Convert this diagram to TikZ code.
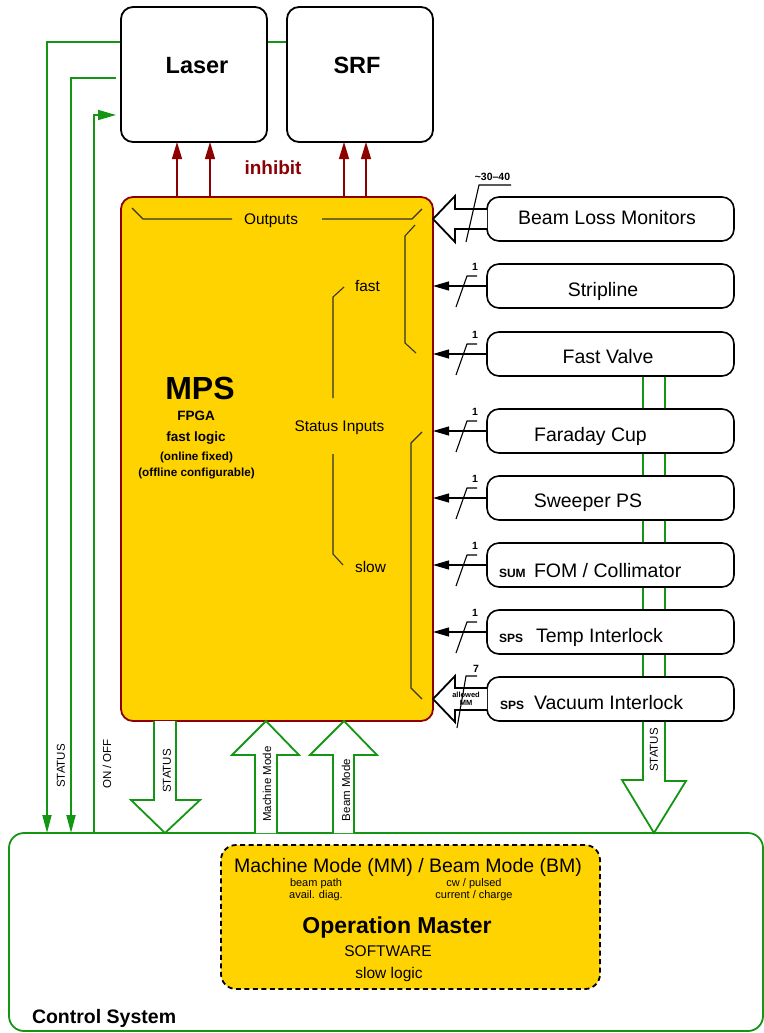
\documentclass[tikz,border=0pt]{standalone}
\usepackage{fontspec}
\setmainfont{Liberation Sans}
\usetikzlibrary{arrows.meta,calc}
\pgfdeclarelayer{bg}
\pgfsetlayers{bg,main}
\definecolor{gold}{RGB}{255,211,0}
\definecolor{grn}{RGB}{20,150,20}
\definecolor{dred}{RGB}{140,0,0}
\newcommand{\fsz}[1]{\fontsize{#1}{#1}\selectfont}
\begin{document}
\begin{tikzpicture}[x=1pt,y=-1pt,
  every node/.style={inner sep=0pt, outer sep=0pt},
  topbox/.style={draw, line width=1.8pt, rounded corners=12pt, fill=white, minimum width=146pt, minimum height=135pt},
  inbox/.style={draw, line width=1.6pt, rounded corners=12pt, fill=white, minimum width=247pt, minimum height=44pt},
  txt/.style={font=\fsz{19.5}, anchor=base},
  txtw/.style={font=\fsz{19.5}, anchor=base west},
  small/.style={font=\bfseries\fsz{12}, anchor=base west},
  onelbl/.style={font=\bfseries\fsz{10.5}, anchor=base},
  inarr/.style={line width=1.1pt, -{Triangle[length=16pt,width=9pt]}},
  slash/.style={line width=1.1pt},
  hollow/.style={line width=1.8pt, fill=white, line join=miter},
  inner/.style={line width=1.1pt, black!80},
  inh/.style={dred, line width=1.3pt, -{Triangle[length=17pt,width=10pt]}},
  gline/.style={grn, line width=1.8pt},
  garr/.style={grn, line width=1.8pt, -{Triangle[length=18pt,width=9pt]}},
  ghollow/.style={grn, line width=1.8pt, fill=white, line join=miter},
  rot/.style={font=\fsz{11.5}, rotate=90}
]
\useasboundingbox (0,0) rectangle (763,1033);

% control system
\node[draw=grn, line width=1.8pt, rounded corners=15pt, minimum width=754pt, minimum height=198pt] (cs) at (386,932) {};
\node[font=\bfseries\fsz{19.5}, anchor=base west] (cst) at (32,1023) {Control System};

% top boxes
\node[topbox] (laser) at (194,74.5) {};
\node[topbox] (srf) at (360,74.5) {};
\node[font=\bfseries\fsz{23.5}, anchor=base] (lasert) at (197,74) {Laser};
\node[font=\bfseries\fsz{23.5}, anchor=base] (srft) at (357,74) {SRF};

% MPS
\node[draw=dred, fill=gold, line width=1.8pt, rounded corners=12pt, minimum width=312pt, minimum height=524pt] (mps) at (277,459) {};
\node[font=\bfseries\fsz{32}, anchor=base] (mpst) at (200,399) {MPS};
\node[font=\bfseries\fsz{13.5}, anchor=base] (fpga) at (196,420) {FPGA};
\node[font=\bfseries\fsz{13.5}, anchor=base] (flog) at (196,441) {fast logic};
\node[font=\bfseries\fsz{11.7}, anchor=base] (onl) at (196.5,460) {(online fixed)};
\node[font=\bfseries\fsz{11.7}, anchor=base] (offl) at (196.5,476) {(offline configurable)};

\node[font=\fsz{15.4}, anchor=base] (outp) at (271,224.5) {Outputs};
\draw[inner] (132,208) -- (143,219) -- (232,219);
\draw[inner] (322,219) -- (412,219) -- (422,209);
\draw[inner] (415,225) -- (405,236) -- (405,343) -- (416,353);
\draw[inner] (344,287) -- (333,297) -- (333,398);
\draw[inner] (333,454) -- (333,554) -- (343,565);
\draw[inner] (422,432) -- (411,443) -- (411,688) -- (422,699);
\node[font=\fsz{15.4}, anchor=base] (fastt) at (367.5,291) {fast};
\node[font=\fsz{15.4}, anchor=base] (sinp) at (339.5,431) {Status Inputs};
\node[font=\fsz{15.4}, anchor=base] (slowt) at (370.5,572) {slow};

% inhibit
\foreach \b/\da/\db in {laser/-17/16, srf/-16/6}{
  \draw[inh] ($(\b.south)+(\da,55)$) -- ($(\b.south)+(\da,0)$);
  \draw[inh] ($(\b.south)+(\db,55)$) -- ($(\b.south)+(\db,0)$);
}
\node[font=\bfseries\fsz{19}, anchor=base, text=dred] (inhib) at (273,174) {inhibit};

% right boxes
\node[inbox] (blm) at (610.5,219) {};
\node[inbox] (strip) at (610.5,286) {};
\node[inbox] (fv) at (610.5,354) {};
\node[inbox] (fc) at (610.5,431) {};
\node[inbox] (sw) at (610.5,498) {};
\node[inbox] (fom) at (610.5,565) {};
\node[inbox] (temp) at (610.5,632) {};
\node[inbox] (vac) at (610.5,699) {};

\node[txt] (blmt) at (607,224) {Beam Loss Monitors};
\node[txt] (stript) at (603,296) {Stripline};
\node[txt] (fvt) at (608,363) {Fast Valve};
\node[txt] (fct) at (590.5,441) {Faraday Cup};
\node[txt] (swt) at (588,507) {Sweeper PS};
\node[small] (sum) at (499,577) {SUM};
\node[txtw] (fomt) at (534,577) {FOM / Collimator};
\node[small] (sps1) at (499,642) {SPS};
\node[txtw] (tempt) at (536,642) {Temp Interlock};
\node[small] (sps2) at (500,709) {SPS};
\node[txtw] (vact) at (534,709) {Vacuum Interlock};

% single inputs
\foreach \n in {strip,fv,fc,sw,fom,temp}{
  \draw[inarr] (\n.west) -- (\n.west -| mps.east);
  \draw[slash] ($(\n.west)+(-31,21)$) -- ($(\n.west)+(-20,-10)$) -- ($(\n.west)+(-10,-10)$);
  \node[onelbl] (one-\n) at ($(\n.west)+(-12,-16)$) {1};
}

% BLM bus arrow
\draw[hollow] ($(blm.west)+(0,-10)$) -- ++(-32,0) -- ++(0,-13) -- (blm.west -| mps.east) -- ++(22,23) -- ++(0,-13) -- ($(blm.west)+(0,10)$);
\draw[slash] ($(blm.west)+(-21,23)$) -- ($(blm.west)+(-8,-34)$) -- ($(blm.west)+(24,-34)$);
\node[onelbl] (blmn) at ($(blm.west)+(5.5,-39)$) {\textasciitilde30–40};

% Vacuum bus arrow
\draw[hollow] ($(vac.west)+(0,-11)$) -- ++(-32,0) -- ++(0,-12) -- (vac.west -| mps.east) -- ++(22,23) -- ++(0,-12) -- ($(vac.west)+(0,11)$);
\draw[slash] ($(vac.west)+(-30,29)$) -- ($(vac.west)+(-21,-23)$) -- ($(vac.west)+(-10,-23)$);
\node[onelbl] (vacn) at ($(vac.west)+(-11,-27)$) {7};
\node[font=\bfseries\fontsize{7.5}{8}\selectfont, align=center] (allowed) at ($(vac.west)+(-21,0)$) {allowed\\MM};

% background green connectors
\coordinate (st1) at (47,833);
\coordinate (st2) at (71,833);
\coordinate (oo) at (94,833);
\begin{pgfonlayer}{bg}
  \draw[garr] ($(srf.west)+(0,-32.5)$) -| (st1);
  \draw[garr] ($(laser.west)+(-5,3.5)$) -| (st2);
  \draw[garr,-{Triangle[length=18pt,width=10pt]}] (oo) |- ($(laser.west)+(-5,40.5)$);
  % right STATUS hollow arrow
  \draw[ghollow] ($(fv.south)+(32.5,0)$) -- ($(fv.south)+(32.5,404)$) -- ++(-21,0)
     -- ($(cs.north -| fv.south)+(43.5,0)$) -- ++(32,-52) -- ++(-21,0) -- ($(fv.south)+(54.5,0)$);
\end{pgfonlayer}

\node[rot] (stat1) at (61,766) {STATUS};
\node[rot] (onoff) at (107,764) {ON / OFF};
\node[rot] (stat3) at (654,750) {STATUS};

% MPS STATUS down arrow
\draw[ghollow] ($(mps.south west)+(33,0)$) -- ++(0,79) -- ++(-23,0) -- ($(mps.south west |- cs.north)+(44,0)$) -- ++(35,-33) -- ++(-24,0) -- ($(mps.south west)+(55,0)$);
\node[rot] (stat2) at (167,771) {STATUS};

% Machine Mode up arrow
\draw[ghollow] ($(mps.south west |- cs.north)+(134,0)$) -- ++(0,-78) -- ++(-23,0) -- ($(mps.south west)+(145,0)$) -- ++(33,34) -- ++(-22,0) -- ($(mps.south west |- cs.north)+(156,0)$);
\node[rot] (mmt) at (267,784) {Machine Mode};
% Beam Mode up arrow
\draw[ghollow] ($(mps.south west |- cs.north)+(212,0)$) -- ++(0,-78) -- ++(-23,0) -- ($(mps.south west)+(223,0)$) -- ++(33,34) -- ++(-23,0) -- ($(mps.south west |- cs.north)+(233,0)$);
\node[rot] (bmt) at (346,790) {Beam Mode};

% Operation master
\node[draw, dash pattern=on 5pt off 3.5pt, fill=gold, line width=1.8pt, rounded corners=15pt, minimum width=379pt, minimum height=144pt] (om) at (410.5,917) {};
\node[font=\fsz{19.5}, anchor=base] (mmbm) at (408,872) {Machine Mode (MM) / Beam Mode (BM)};
\node[font=\fontsize{11}{12}\selectfont, align=center, anchor=north] (bp) at (316,879) {beam path\\avail. diag.};
\node[font=\fontsize{11}{12}\selectfont, align=center, anchor=north] (cw) at (474,879) {cw / pulsed\\current / charge};
\node[font=\bfseries\fsz{23}, anchor=base] (omt) at (397,933) {Operation Master};
\node[font=\fsz{15.5}, anchor=base] (sw2) at (388,956) {SOFTWARE};
\node[font=\fsz{15.5}, anchor=base] (slg) at (389,978) {slow logic};
\end{tikzpicture}
\end{document}
